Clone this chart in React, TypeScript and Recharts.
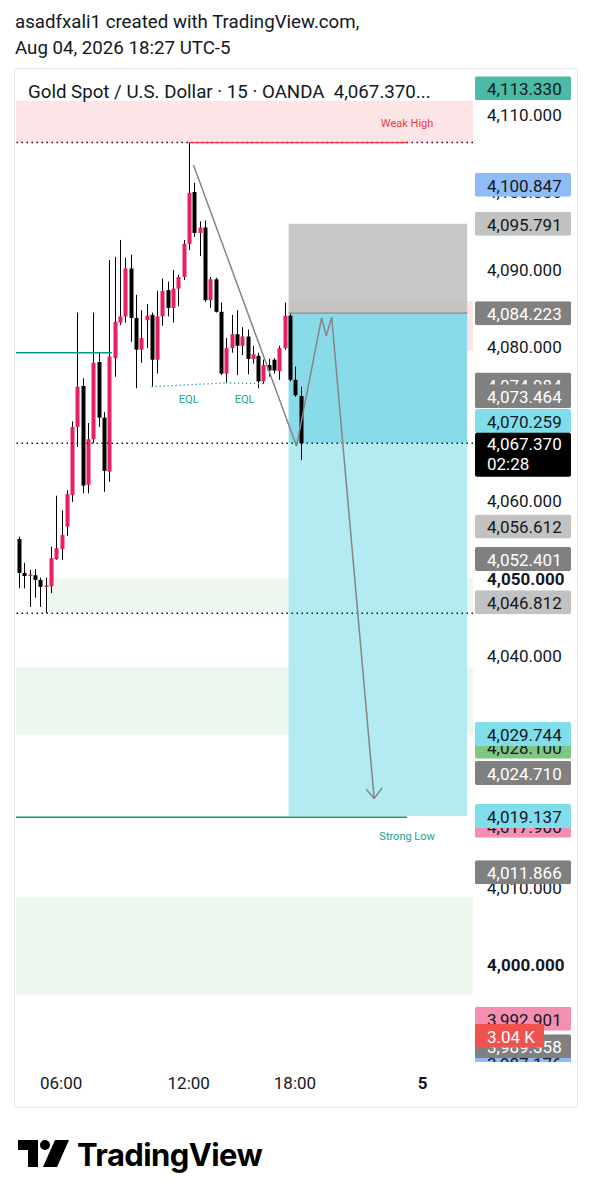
import React from 'react';
import { ComposedChart, Bar, XAxis, YAxis, ReferenceArea, ReferenceLine } from 'recharts';

const FONT = 'Roboto, "Noto Sans", sans-serif';
const INK = '#131722';
const PINK = '#e91e63';
const TEAL = '#22a08f';
const RED = '#f23645';

// XAUUSD 15m, Aug 04 from 04:00 (16:00-17:00 session break is skipped)
const opens = [
  4055.0, 4050.6, 4050.2, 4050.3, 4049.7, 4048.8, 4048.9, 4052.4, 4053.7, 4056.6,
  4060.7, 4069.5, 4074.8, 4062.0, 4067.9, 4077.9, 4070.7, 4063.7, 4078.4, 4083.0,
  4083.8, 4090.0, 4083.6, 4079.5, 4083.3, 4084.0, 4078.2, 4083.8, 4087.2, 4084.9,
  4087.4, 4088.9, 4093.2, 4099.9, 4094.6, 4095.3, 4085.9, 4088.6, 4084.4, 4076.4,
  4079.7, 4081.5, 4080.0, 4081.2, 4078.3, 4078.7, 4075.4, 4077.5, 4078.2, 4076.7,
  4079.7, 4083.9, 4075.6, 4073.5,
];
const highs = [
  4055.3, 4051.9, 4051.0, 4051.1, 4050.0, 4050.0, 4054.0, 4060.6, 4058.7, 4061.3,
  4070.2, 4084.3, 4075.8, 4070.0, 4084.3, 4079.1, 4071.4, 4091.1, 4091.5, 4093.7,
  4091.4, 4091.8, 4086.6, 4084.6, 4085.4, 4084.3, 4087.1, 4088.7, 4088.3, 4089.8,
  4089.2, 4093.7, 4106.3, 4101.1, 4096.1, 4096.2, 4088.9, 4088.8, 4085.6, 4081.0,
  4084.0, 4084.6, 4082.4, 4082.1, 4080.0, 4079.1, 4078.2, 4078.3, 4078.4, 4080.0,
  4085.6, 4084.2, 4077.3, 4074.7,
];
const lows = [
  4048.6, 4048.6, 4046.2, 4047.4, 4046.2, 4045.4, 4048.0, 4052.3, 4052.3, 4055.4,
  4059.8, 4066.9, 4060.9, 4060.9, 4067.4, 4069.5, 4061.1, 4062.4, 4076.0, 4082.7,
  4083.0, 4080.5, 4074.5, 4077.8, 4079.7, 4074.7, 4076.4, 4082.6, 4083.8, 4083.0,
  4085.1, 4088.5, 4092.4, 4094.1, 4091.6, 4085.7, 4084.9, 4084.3, 4076.2, 4075.2,
  4079.1, 4076.2, 4078.8, 4076.3, 4077.7, 4074.5, 4075.1, 4076.0, 4076.4, 4075.6,
  4079.5, 4075.4, 4073.4, 4065.2,
];
const closes = [
  4050.6, 4050.2, 4050.4, 4049.7, 4048.8, 4049.0, 4052.5, 4053.8, 4055.5, 4060.8,
  4069.5, 4074.7, 4061.9, 4067.9, 4077.8, 4070.7, 4063.8, 4078.6, 4083.1, 4083.8,
  4090.0, 4083.6, 4079.5, 4081.0, 4083.9, 4078.2, 4083.8, 4087.1, 4084.9, 4087.4,
  4088.9, 4093.2, 4099.8, 4094.6, 4095.3, 4085.9, 4088.6, 4084.4, 4076.4, 4079.7,
  4081.5, 4080.0, 4081.2, 4078.3, 4078.9, 4075.4, 4077.5, 4076.8, 4076.8, 4079.7,
  4083.9, 4075.6, 4073.6, 4067.37,
];

const SLOTS = 86; // bar slots across the plot, empty ones on the right
const timeTicks = [8, 32, 52, 76];
const timeLabels = ['06:00', '12:00', '18:00', '5'];

const priceTicks = [4110, 4100, 4090, 4080, 4070, 4060, 4050, 4040, 4030, 4020, 4010, 4000, 3990];
const boldTicks = [4050, 4000];

// price scale labels, drawn in this order (later ones on top)
const badgePrices = [
  4113.33, 4100.847, 4095.791, 4084.223, 4074.984, 4073.464, 4070.259, 4056.612, 4052.401,
  4046.812, 4028.1, 4029.744, 4024.71, 4017.9, 4019.137, 4011.866, 3987.176, 3989.358,
  3992.901, 3990.7,
];
const badgeFills = [
  '#4cbba6', '#8fbcf7', '#c2c2c2', '#808080', '#808080', '#808080', '#80deea', '#c2c2c2', '#808080',
  '#c2c2c2', '#81c784', '#80deea', '#808080', '#f48fb1', '#80deea', '#808080', '#8fbcf7', '#808080',
  '#f48fb1', '#ef5350',
];
const badgeInks = [
  INK, INK, INK, '#fff', '#fff', '#fff', INK, INK, '#fff',
  INK, INK, INK, '#fff', INK, INK, '#fff', INK, '#fff',
  INK, '#fff',
];
const badgeTexts = ['', '', '', '', '', '', '', '', '', '', '', '', '', '', '', '', '', '', '', '3.04 K'];

const lastPrice = 4067.37;
const countdown = '02:28';

// drawings
const weakHigh = 4106.3;
const weakHighZone = [4106.25, 4111.7];
const supplyZone = [4079.3, 4085.8];
const demandZoneA = [4045.5, 4049.9];
const demandZoneB = [4029.6, 4038.4];
const demandZoneC = [3996.0, 4008.7];
const swingLine = 4079.1;
const strongLow = 4019.0;
const sessionLow = 4045.4;
const position = { stop: 4095.791, entry: 4084.223, target: 4019.137 };
const eqlPoints = [[25, 4074.7], [39, 4075.2], [46, 4075.1]];
const trendPoints = [[32.9, 4103.4], [52.3, 4067.0]];
const pathPoints = [[52.3, 4067.0], [57.0, 4083.6], [57.9, 4081.3], [58.9, 4083.7], [66.9, 4021.4]];
const arrowWings = [[65.4, 4022.6], [68.4, 4022.8]];

const data = Array.from({ length: SLOTS }, (_, i) =>
  i < opens.length
    ? { slot: i, open: opens[i], high: highs[i], low: lows[i], close: closes[i] }
    : { slot: i }
);

const fmt = (v: number) =>
  v.toLocaleString('en-US', { minimumFractionDigits: 3, maximumFractionDigits: 3 });

const PLOT_BOTTOM = 993;

function Candle(props: any) {
  const { x, y, width, height, payload } = props;
  if (payload == null || payload.open == null || height == null) return null;
  const top = Math.min(y, y + height);
  const h = Math.abs(height);
  const k = h / (payload.high - payload.low || 1);
  const bodyTop = top + (payload.high - Math.max(payload.open, payload.close)) * k;
  const bodyH = Math.max(Math.abs(payload.open - payload.close) * k, 1.5);
  const up = payload.close >= payload.open;
  const cx = Math.round(x + width / 2) + 0.5;
  return (
    <g>
      <line x1={cx} x2={cx} y1={top} y2={top + h} stroke="#000" strokeWidth={1} />
      <rect x={cx - 2} y={bodyTop} width={4} height={bodyH} fill={up ? PINK : '#000'} />
    </g>
  );
}

function PriceTick(props: any) {
  const { x, y, payload } = props;
  const v = payload.value;
  const tx = x + 14;
  if (v === lastPrice) {
    return (
      <g>
        <rect x={x + 2} y={y - 10.5} width={96} height={44} rx={2} fill="#000" />
        <text x={tx} y={y + 1} dominantBaseline="central" fontSize={17} fontFamily={FONT} fill="#fff">{fmt(v)}</text>
        <text x={tx} y={y + 21} dominantBaseline="central" fontSize={17} fontFamily={FONT} fill="#fff">{countdown}</text>
      </g>
    );
  }
  const bi = badgePrices.indexOf(v);
  if (bi >= 0) {
    const top = y - 12;
    const hgt = Math.min(24, PLOT_BOTTOM - top);
    if (hgt <= 0) return null;
    const id = 'clip' + bi;
    const label = badgeTexts[bi] || fmt(v);
    return (
      <g>
        <clipPath id={id}>
          <rect x={x} y={top} width={104} height={hgt} />
        </clipPath>
        <g clipPath={`url(#${id})`}>
          <rect x={x + 2} y={top} width={badgeTexts[bi] ? 69 : 96} height={24} rx={2} fill={badgeFills[bi]} />
          <text x={tx} y={y + 1} dominantBaseline="central" fontSize={17} fontFamily={FONT} fill={badgeInks[bi]}>{label}</text>
        </g>
      </g>
    );
  }
  return (
    <text x={tx} y={y + 1} dominantBaseline="central" fontSize={17} fontFamily={FONT} fill={INK}
      fontWeight={boldTicks.includes(v) ? 700 : 400}>
      {fmt(v)}
    </text>
  );
}

function TimeTick(props: any) {
  const { x, y, payload } = props;
  const i = timeTicks.indexOf(payload.value);
  return (
    <text x={x} y={y + 21} textAnchor="middle" dominantBaseline="central" fontSize={17} fontFamily={FONT}
      fill={INK} fontWeight={timeLabels[i] === '5' ? 700 : 400}>
      {timeLabels[i]}
    </text>
  );
}

const smallLabel = (text: string, color: string, dy: number, atEnd: boolean) => (p: any) => {
  const vb = p.viewBox || {};
  const cx = atEnd ? vb.x + vb.width : vb.x + vb.width / 2;
  return (
    <text x={cx} y={vb.y + dy} textAnchor="middle" dominantBaseline="central" fontSize={11} fontFamily={FONT} fill={color}>
      {text}
    </text>
  );
};

const seg = (a: number[], b: number[]) => [{ x: a[0], y: a[1] }, { x: b[0], y: b[1] }];

export default function App() {
  const ax = { xAxisId: 'n', yAxisId: 'p' };
  const head = { position: 'absolute' as const, fontSize: 18.7, lineHeight: '22px', whiteSpace: 'nowrap' as const };
  return (
    <div style={{ position: 'absolute', left: 0, top: 0, width: 592, height: 1200, background: '#fff', fontFamily: FONT, color: INK }}>
      <div style={{ ...head, left: 15, top: 11 }}>asadfxali1 created with TradingView.com,</div>
      <div style={{ ...head, left: 15, top: 37 }}>Aug 04, 2026 18:27 UTC-5</div>
      <div style={{ position: 'absolute', left: 14, top: 68, width: 564, height: 1040, border: '1px solid #e6e8ee', boxSizing: 'border-box' }} />
      <div style={{ position: 'absolute', left: 15, top: 69 }}>
        <ComposedChart width={562} height={1038} data={data} margin={{ top: 1, right: 0, bottom: 0, left: 1 }}>
          <XAxis xAxisId="c" dataKey="slot" type="category" ticks={timeTicks} interval={0} height={45}
            axisLine={false} tickLine={false} tickSize={0} tickMargin={0} tick={<TimeTick />} />
          <XAxis xAxisId="n" dataKey="slot" type="number" domain={[-0.5, SLOTS - 0.5]} allowDataOverflow hide />
          <YAxis yAxisId="p" orientation="right" type="number" domain={[3987.31, 4115.69]} allowDataOverflow width={104}
            ticks={[...priceTicks, ...badgePrices, lastPrice]} interval={0} axisLine={false} tickLine={false}
            tickSize={0} tickMargin={0} tick={<PriceTick />} />

          <ReferenceArea {...ax} x1={-0.5} x2={SLOTS - 0.5} y1={weakHighZone[0]} y2={weakHighZone[1]} fill={RED} fillOpacity={0.13} ifOverflow="hidden" />
          <ReferenceArea {...ax} x1={50.8} x2={SLOTS - 0.5} y1={supplyZone[0]} y2={supplyZone[1]} fill={RED} fillOpacity={0.13} ifOverflow="hidden" />
          <ReferenceArea {...ax} x1={5.5} x2={SLOTS - 0.5} y1={demandZoneA[0]} y2={demandZoneA[1]} fill="#4caf50" fillOpacity={0.1} ifOverflow="hidden" />
          <ReferenceArea {...ax} x1={-0.5} x2={SLOTS - 0.5} y1={demandZoneB[0]} y2={demandZoneB[1]} fill="#4caf50" fillOpacity={0.1} ifOverflow="hidden" />
          <ReferenceArea {...ax} x1={-0.5} x2={SLOTS - 0.5} y1={demandZoneC[0]} y2={demandZoneC[1]} fill="#4caf50" fillOpacity={0.1} ifOverflow="hidden" />

          <ReferenceArea {...ax} x1={50.8} x2={84.4} y1={position.entry} y2={position.stop} fill="#bdbdbd" fillOpacity={0.85} ifOverflow="hidden" />
          <ReferenceArea {...ax} x1={50.8} x2={84.4} y1={lastPrice} y2={position.entry} fill="#8adbea" fillOpacity={1} ifOverflow="hidden" />
          <ReferenceArea {...ax} x1={50.8} x2={84.4} y1={position.target} y2={lastPrice} fill="#b2ebf2" fillOpacity={1} ifOverflow="hidden" />
          <ReferenceLine {...ax} segment={seg([50.8, position.entry], [84.4, position.entry])} stroke="#8a8a8a" strokeWidth={1.2} />

          <ReferenceLine {...ax} y={weakHigh} stroke={INK} strokeWidth={1.5} strokeDasharray="1.5 3.5" />
          <ReferenceLine {...ax} y={lastPrice} stroke={INK} strokeWidth={1.5} strokeDasharray="1.5 3.5" />
          <ReferenceLine {...ax} y={sessionLow} stroke={INK} strokeWidth={1.5} strokeDasharray="1.5 3.5" />
          <ReferenceLine {...ax} segment={seg([32, weakHigh], [73.1, weakHigh])} stroke={RED} strokeWidth={1.2}
            label={smallLabel('Weak High', RED, -19, true)} />
          <ReferenceLine {...ax} segment={seg([-0.5, strongLow], [73.1, strongLow])} stroke="#089981" strokeWidth={1.5}
            label={smallLabel('Strong Low', TEAL, 19, true)} />
          <ReferenceLine {...ax} segment={seg([-0.5, swingLine], [17.6, swingLine])} stroke="#089981" strokeWidth={1.5} />
          <ReferenceLine {...ax} segment={seg(eqlPoints[0], eqlPoints[1])} stroke={TEAL} strokeWidth={1.3} strokeDasharray="1.3 2.7"
            label={smallLabel('EQL', TEAL, 17, false)} />
          <ReferenceLine {...ax} segment={seg(eqlPoints[1], eqlPoints[2])} stroke={TEAL} strokeWidth={1.3} strokeDasharray="1.3 2.7"
            label={smallLabel('EQL', TEAL, 17, false)} />

          <Bar xAxisId="c" yAxisId="p" dataKey={(d: any) => (d.open == null ? null : [d.low, d.high])}
            shape={<Candle />} barSize={4} isAnimationActive={false} />

          <ReferenceLine {...ax} segment={seg(trendPoints[0], trendPoints[1])} stroke="#858585" strokeWidth={1.5} />
          {pathPoints.slice(1).map((p, i) => (
            <ReferenceLine key={'p' + i} {...ax} segment={seg(pathPoints[i], p)} stroke="#858585" strokeWidth={1.5} />
          ))}
          {arrowWings.map((w, i) => (
            <ReferenceLine key={'w' + i} {...ax} segment={seg(w, pathPoints[pathPoints.length - 1])} stroke="#858585" strokeWidth={1.5} />
          ))}
        </ComposedChart>
      </div>
      <div style={{ ...head, left: 28, top: 81 }}>
        Gold Spot / U.S. Dollar · 15 · OANDA&nbsp;&nbsp;4,067.370...
      </div>
      <svg style={{ position: 'absolute', left: 0, top: 1130 }} width={300} height={50}>
        <path d="M18 10 H38 V37 H28 V20 H18 Z" fill="#000" />
        <circle cx={45} cy={15} r={5} fill="#000" />
        <path d="M55 10 H69 L57 37 H43 Z" fill="#000" />
        <text x={77} y={36} fontSize={31} fontWeight={700} fontFamily="Inter, Roboto, sans-serif" fill="#000" letterSpacing={-0.6}>
          TradingView
        </text>
      </svg>
    </div>
  );
}
